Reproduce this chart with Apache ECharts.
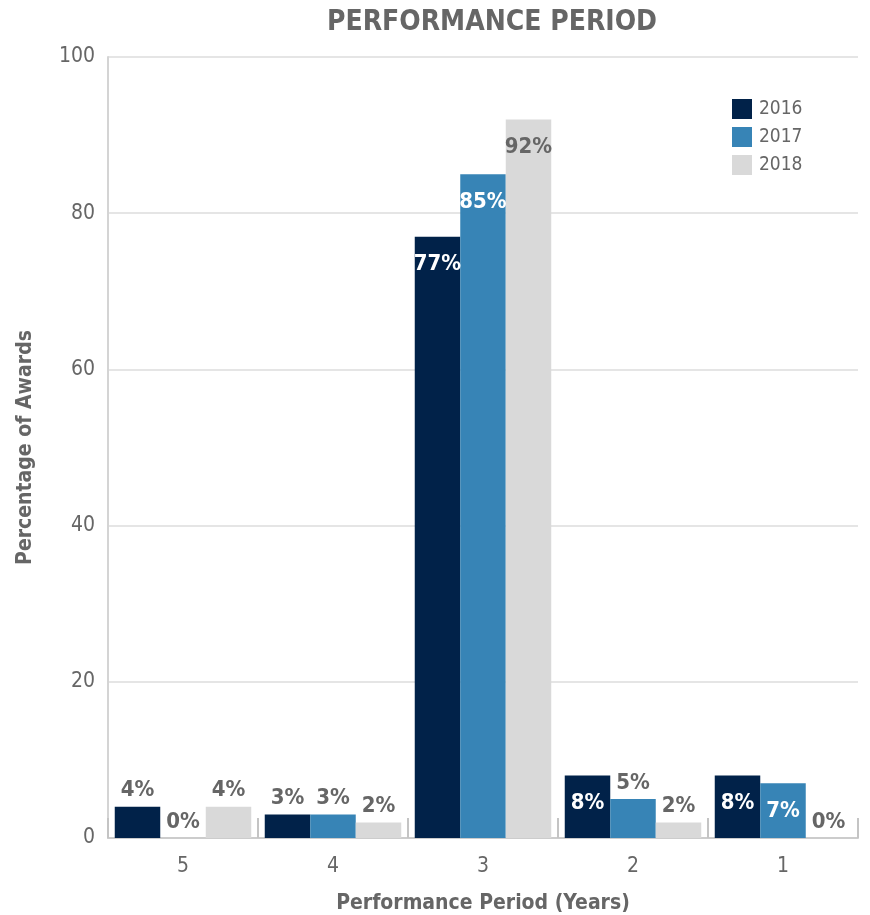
<!DOCTYPE html>
<html>
<head>
<meta charset="utf-8">
<script src="https://cdn.jsdelivr.net/npm/echarts@6/dist/echarts.min.js"></script>
<style>
  html, body { margin: 0; padding: 0; background: #fff; }
  #chart { width: 870px; height: 915px; }
</style>
</head>
<body>
<div id="chart"></div>
<script>
// Performance period lengths (years) and share of awards per year
const categories = ['5', '4', '3', '2', '1'];
const years = ['2016', '2017', '2018'];
const values2016 = [4, 3, 77, 8, 8];
const values2017 = [0, 3, 85, 5, 7];
const values2018 = [4, 2, 92, 2, 0];
const yTicks = [0, 20, 40, 60, 80, 100];

const FONT = '"DejaVu Sans Condensed", "Liberation Sans Narrow", "Liberation Sans", Arial, sans-serif';
const GRAY = '#666666';
const colors = ['#012249', '#3784B6', '#D9D9D9'];
// text colour used when a label sits inside the bar
const insideText = ['#ffffff', '#ffffff', GRAY];

function buildData(values, idx) {
  return values.map(v => {
    const inside = v >= 7;
    return {
      value: v,
      label: {
        position: inside ? 'insideTop' : 'top',
        distance: inside ? 17 : 5,
        color: inside ? insideText[idx] : GRAY
      }
    };
  });
}

const seriesValues = [values2016, values2017, values2018];

const chart = echarts.init(document.getElementById('chart'), null, { renderer: 'canvas' });
chart.setOption({
  animation: false,
  textStyle: { fontFamily: FONT },
  title: {
    text: 'PERFORMANCE PERIOD',
    left: 487,
    textAlign: 'center',
    top: 4,
    textStyle: { fontFamily: FONT, fontSize: 28, fontWeight: 'bold', color: GRAY }
  },
  legend: {
    data: years,
    orient: 'vertical',
    left: 732,
    top: 99,
    padding: 0,
    itemWidth: 20,
    itemHeight: 20,
    itemGap: 8,
    icon: 'rect',
    textStyle: { fontFamily: FONT, fontSize: 19, color: GRAY, padding: [0, 0, 0, 2] }
  },
  grid: { left: 108, right: 12, top: 57, bottom: 77, outerBoundsMode: 'none', containLabel: false },
  xAxis: {
    type: 'category',
    data: categories,
    name: 'Performance Period (Years)',
    nameLocation: 'middle',
    nameGap: 55,
    nameTextStyle: { fontFamily: FONT, fontSize: 21, fontWeight: 'bold', color: GRAY },
    axisLine: { lineStyle: { color: '#cccccc', width: 2 } },
    axisTick: { show: true, inside: true, length: 20, lineStyle: { color: '#c4c4c4', width: 2 } },
    axisLabel: { fontFamily: FONT, fontSize: 21, color: GRAY, margin: 18 }
  },
  yAxis: {
    type: 'value',
    min: yTicks[0],
    max: yTicks[yTicks.length - 1],
    interval: 20,
    name: 'Percentage of Awards',
    nameLocation: 'middle',
    nameGap: 72,
    nameTextStyle: { fontFamily: FONT, fontSize: 21, fontWeight: 'bold', color: GRAY },
    axisLine: { show: true, lineStyle: { color: '#d4d4d4', width: 2 } },
    axisTick: { show: false },
    axisLabel: { fontFamily: FONT, fontSize: 21, color: GRAY, margin: 13 },
    splitLine: { lineStyle: { color: '#dddddd', width: 1.5 } }
  },
  series: years.map((y, i) => ({
    name: y,
    type: 'bar',
    data: buildData(seriesValues[i], i),
    barGap: '0%',
    barCategoryGap: '9%',
    itemStyle: { color: colors[i] },
    label: {
      show: true,
      formatter: '{c}%',
      fontFamily: FONT,
      fontSize: 22,
      fontWeight: 'bold'
    }
  }))
});
</script>
</body>
</html>
